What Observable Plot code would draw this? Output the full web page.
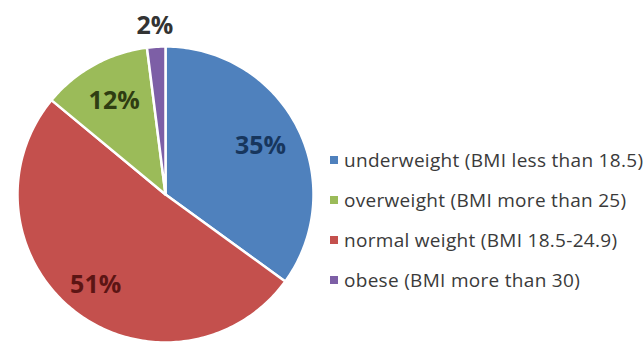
<!DOCTYPE html>
<html>
<head>
<meta charset="utf-8">
<script src="https://cdn.jsdelivr.net/npm/d3@7"></script>
<script src="https://cdn.jsdelivr.net/npm/@observablehq/plot@0.6"></script>
<style>
  html, body { margin: 0; padding: 0; background: #fff; }
  #wrap { position: relative; width: 643px; height: 345px; overflow: hidden; }
  #legend { position: absolute; left: 330px; top: 0; font-family: "Open Sans", sans-serif; font-size: 19px; letter-spacing: 0.3px; color: #3a3a3a; }
  .item { position: absolute; white-space: nowrap; display: flex; align-items: center; height: 26px; }
  .sw { width: 8px; height: 8px; margin-right: 6px; }
</style>
</head>
<body>
<div id="wrap"><div id="legend"></div></div>
<script>
// Slices in drawing order (clockwise from 12 o'clock)
const categories = ["underweight", "normal weight", "overweight", "obese"];
const descriptions = ["(BMI less than 18.5)", "(BMI 18.5-24.9)", "(BMI more than 25)", "(BMI more than 30)"];
const percents = [35, 51, 12, 2];
const colors = ["#4f81bd", "#c4504d", "#9bbb59", "#7d5fa6"];
const labelColors = ["#17365d", "#5c1514", "#2f3d12", "#333333"];
const legendOrder = ["underweight", "overweight", "normal weight", "obese"];

const total = d3.sum(percents);
const pts = [];
const labels = [];
let acc = 0;
categories.forEach((c, i) => {
  const a0 = acc / total * 2 * Math.PI;
  acc += percents[i];
  const a1 = acc / total * 2 * Math.PI;
  const n = Math.max(4, Math.ceil((a1 - a0) / (Math.PI / 180)));
  pts.push({cat: c, x: 0, y: 0});
  for (let k = 0; k <= n; k++) {
    const a = a0 + (a1 - a0) * k / n;
    pts.push({cat: c, x: Math.sin(a), y: Math.cos(a)});
  }
  pts.push({cat: c, x: 0, y: 0});
  const m = (a0 + a1) / 2;
  const r = percents[i] < 5 ? 1.14 : (percents[i] > 50 ? 0.77 : 0.72);
  labels.push({cat: c, text: percents[i] + "%", x: r * Math.sin(m), y: r * Math.cos(m), color: labelColors[i]});
});

const cx = 165, cy = 194, R = 148;
const chart = Plot.plot({
  width: 643,
  height: 345,
  margin: 0,
  x: {domain: [-1, 1], range: [cx - R, cx + R], axis: null},
  y: {domain: [-1, 1], range: [cy + R, cy - R], axis: null},
  color: {domain: categories, range: colors},
  marks: [
    Plot.line(pts, {x: "x", y: "y", z: "cat", fill: "cat", stroke: "white", strokeWidth: 2.5, strokeLinejoin: "round", curve: "linear"}),
    Plot.text(labels, {x: "x", y: "y", text: "text", fill: "color", fontSize: 25, fontWeight: "bold", fontFamily: "Open Sans"})
  ]
});
document.getElementById("wrap").prepend(chart);

const legend = document.getElementById("legend");
const rowY = [160, 200, 240, 280];
legendOrder.forEach((c, j) => {
  const i = categories.indexOf(c);
  const div = document.createElement("div");
  div.className = "item";
  div.style.top = (rowY[j] - 13) + "px";
  div.innerHTML = `<span class="sw" style="background:${colors[i]}"></span><span>${c} ${descriptions[i]}</span>`;
  legend.appendChild(div);
});
</script>
</body>
</html>
